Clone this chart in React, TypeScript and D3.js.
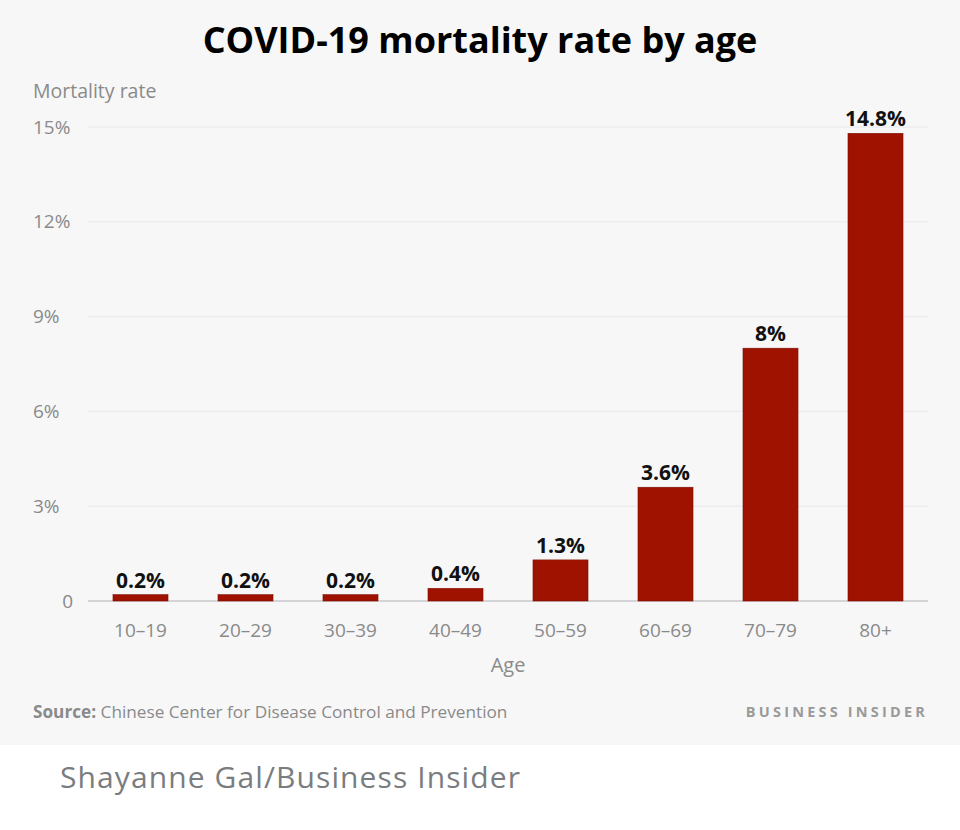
import * as d3 from "d3";
import { useEffect, useRef } from "react";

const ageGroups = ["10–19", "20–29", "30–39", "40–49", "50–59", "60–69", "70–79", "80+"];
const mortality = [0.2, 0.2, 0.2, 0.4, 1.3, 3.6, 8, 14.8];
const valueLabels = ["0.2%", "0.2%", "0.2%", "0.4%", "1.3%", "3.6%", "8%", "14.8%"];
const yTicks = [0, 3, 6, 9, 12, 15];

const App = () => {
    const svgRef = useRef<SVGSVGElement | null>(null);

    useEffect(() => {
        if (!svgRef.current) return;

        const width = 960;
        const height = 830;
        const font = "'Open Sans', Lato, sans-serif";

        const svg = d3.select(svgRef.current)
            .attr("width", width)
            .attr("height", height)
            .style("position", "absolute")
            .style("left", 0)
            .style("top", 0)
            .style("background", "#fff");

        svg.selectAll("*").remove();

        // grey panel behind the chart
        svg.append("rect")
            .attr("x", 0).attr("y", 0)
            .attr("width", width).attr("height", 745)
            .attr("fill", "#f7f7f8");

        const x = d3.scaleBand()
            .domain(ageGroups)
            .range([88, 928])
            .paddingInner(0.476)
            .paddingOuter(0.238);

        const y = d3.scaleLinear()
            .domain([0, 15])
            .range([601, 127]);

        // title
        svg.append("text")
            .attr("x", 480).attr("y", 53)
            .attr("text-anchor", "middle")
            .attr("font-family", font)
            .attr("font-weight", 700)
            .attr("font-size", 36)
            .attr("fill", "#000")
            .text("COVID-19 mortality rate by age");

        svg.append("text")
            .attr("x", 33).attr("y", 98)
            .attr("font-family", font)
            .attr("font-size", 19.5)
            .attr("fill", "#8a8a8a")
            .text("Mortality rate");

        // gridlines + y labels
        const grid = svg.append("g");
        grid.selectAll("line")
            .data(yTicks)
            .join("line")
            .attr("x1", 88).attr("x2", 928)
            .attr("y1", d => y(d)).attr("y2", d => y(d))
            .attr("stroke", d => d === 0 ? "#c8c8cc" : "#e8e8ea")
            .attr("stroke-width", d => d === 0 ? 1.5 : 1);

        grid.selectAll("text")
            .data(yTicks)
            .join("text")
            .attr("x", d => d === 0 ? 73 : 33)
            .attr("y", d => y(d))
            .attr("dy", "0.35em")
            .attr("text-anchor", d => d === 0 ? "end" : "start")
            .attr("font-family", font)
            .attr("font-size", 19)
            .attr("fill", "#8a8a8a")
            .text(d => d === 0 ? "0" : `${d}%`);

        // bars
        svg.append("g")
            .selectAll("rect")
            .data(mortality)
            .join("rect")
            .attr("x", (_, i) => x(ageGroups[i])!)
            .attr("width", x.bandwidth())
            .attr("y", d => y(d))
            .attr("height", d => y(0) - y(d))
            .attr("fill", "#a01200")
            .attr("stroke", "#7d1005")
            .attr("stroke-width", 0.6);

        // value labels
        svg.append("g")
            .selectAll("text")
            .data(mortality)
            .join("text")
            .attr("x", (_, i) => x(ageGroups[i])! + x.bandwidth() / 2)
            .attr("y", d => y(d) - 7)
            .attr("text-anchor", "middle")
            .attr("font-family", font)
            .attr("font-weight", 700)
            .attr("font-size", 21)
            .attr("fill", "#111")
            .text((_, i) => valueLabels[i]);

        // x labels
        svg.append("g")
            .selectAll("text")
            .data(ageGroups)
            .join("text")
            .attr("x", d => x(d)! + x.bandwidth() / 2)
            .attr("y", 630)
            .attr("dy", "0.35em")
            .attr("text-anchor", "middle")
            .attr("font-family", font)
            .attr("font-size", 19)
            .attr("fill", "#8a8a8a")
            .text(d => d);

        svg.append("text")
            .attr("x", 508).attr("y", 665)
            .attr("dy", "0.35em")
            .attr("text-anchor", "middle")
            .attr("font-family", font)
            .attr("font-size", 20)
            .attr("fill", "#8a8a8a")
            .text("Age");

        // source + brand
        const src = svg.append("text")
            .attr("x", 33).attr("y", 712)
            .attr("dy", "0.35em")
            .attr("font-family", font)
            .attr("font-size", 17.2)
            .attr("fill", "#8a8a8a");
        src.append("tspan").attr("font-weight", 700).text("Source:");
        src.append("tspan").text(" Chinese Center for Disease Control and Prevention");

        svg.append("text")
            .attr("x", 928).attr("y", 712)
            .attr("dy", "0.35em")
            .attr("text-anchor", "end")
            .attr("font-family", font)
            .attr("font-weight", 700)
            .attr("font-size", 14.5)
            .attr("letter-spacing", 3.2)
            .attr("fill", "#9a9a9a")
            .text("BUSINESS INSIDER");

        // caption below the graphic
        svg.append("text")
            .attr("x", 60).attr("y", 777)
            .attr("dy", "0.35em")
            .attr("font-family", font)
            .attr("font-size", 30)
            .attr("letter-spacing", 1.1)
            .attr("fill", "#7a7d80")
            .text("Shayanne Gal/Business Insider");
    }, []);

    return <svg ref={svgRef}></svg>;
};

export default App;
